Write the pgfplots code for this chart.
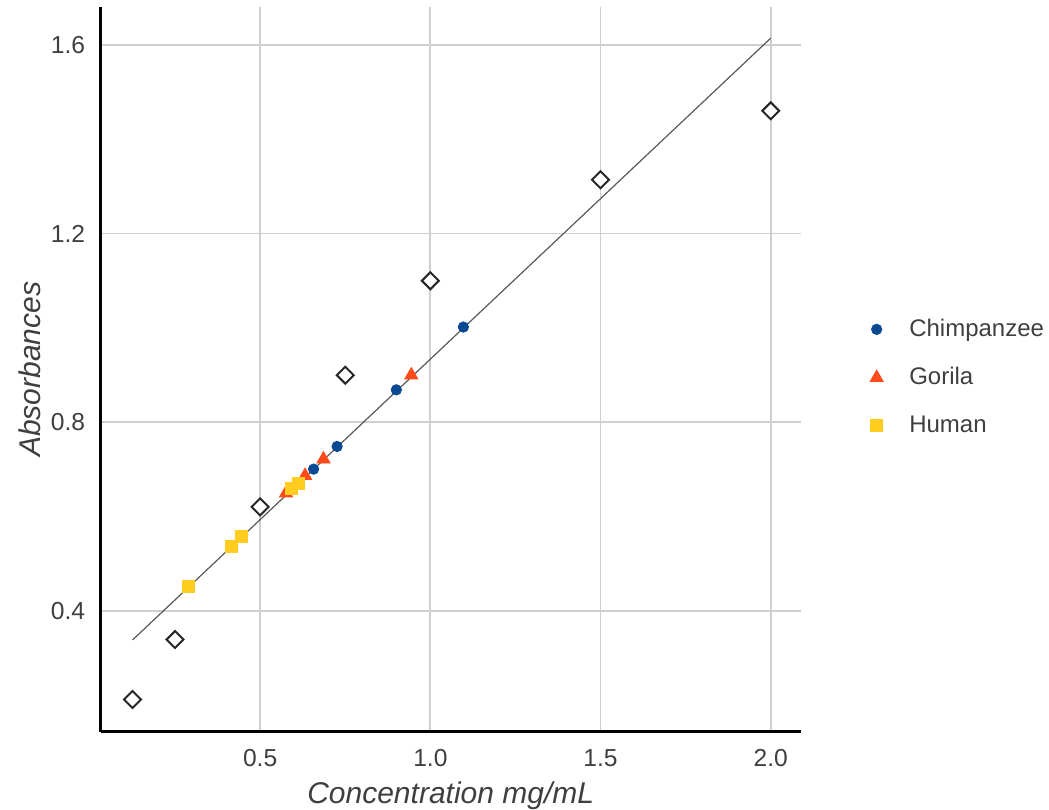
\documentclass[border=0pt]{standalone}
\usepackage{pgfplots}
\pgfplotsset{compat=1.18}
\usepackage{fontspec}
\setmainfont{Liberation Sans}
\definecolor{chimp}{HTML}{0B4A92}
\definecolor{gor}{HTML}{FF4A1A}
\definecolor{hum}{HTML}{FFCC1F}
\definecolor{tickc}{HTML}{3F3F3F}
\definecolor{gridc}{HTML}{CFCFCF}
\begin{document}
\begin{tikzpicture}
\begin{axis}[
  name=ax,
  scale only axis,
  width=350pt, height=362.35pt,
  xmin=0.0315, xmax=2.088,
  ymin=0.1447, ymax=1.68,
  axis x line*=bottom, axis y line*=left,
  axis line style={-, black, line width=1.5pt},
  xtick={0.5,1,1.5,2}, ytick={0.4,0.8,1.2,1.6},
  major tick length=0pt,
  grid=major,
  major grid style={gridc, line width=0.9pt},
  /pgf/number format/.cd, fixed, fixed zerofill, precision=1, assume math mode=true,
  /pgfplots/.cd,
  ticklabel style={font=\fontsize{12.3}{14}\selectfont, text=tickc},
  xticklabel style={yshift=-5.5pt},
  yticklabel style={xshift=-4.3pt},
  xlabel={\textit{Concentration mg/mL}},
  ylabel={\textit{Absorbances}},
  label style={font=\fontsize{15}{17}\selectfont, text=tickc},
  xlabel style={at={(axis description cs:0.5,-0.0984)}, anchor=base},
  ylabel style={at={(axis description cs:-0.101,0.5)}, anchor=center},
  legend style={draw=none, fill=none, at={(axis description cs:1.09,0.489)}, anchor=west,
    font=\fontsize{12}{14}\selectfont, text=tickc, row sep=10pt,
    /tikz/every odd column/.append style={column sep=11pt}},
  legend cell align=left,
  legend image code/.code={\draw[mark repeat=2,mark phase=2,#1] plot coordinates {(0pt,0pt)(6pt,0pt)(12pt,0pt)};},
  clip=false,
]
% regression line
\addplot[forget plot, color=black!65, line width=0.6pt] coordinates {(0.125,0.339) (2.0,1.614)};
% standards
\addplot[forget plot, only marks, mark=square*, mark size=3pt, mark options={rotate=45, fill=white, draw=black!85, line width=1pt}] coordinates {
(0.125,0.213) (0.25,0.340) (0.5,0.621) (0.75,0.900) (1.0,1.100) (1.5,1.314) (2.0,1.460)};
\addplot[only marks, mark=*, mark size=2.6pt, color=chimp] coordinates {
(0.657,0.701) (0.726,0.749) (0.900,0.869) (1.097,1.002)};
\addlegendentry{Chimpanzee}
\addplot[only marks, mark=triangle*, mark size=3.8pt, color=gor] coordinates {
(0.576,0.650) (0.632,0.687) (0.686,0.722) (0.944,0.900)};
\addlegendentry{Gorila}
\addplot[only marks, mark=square*, mark size=3pt, color=hum] coordinates {
(0.289,0.452) (0.415,0.537) (0.446,0.558) (0.593,0.660) (0.613,0.671)};
\addlegendentry{Human}
\end{axis}
\pgfresetboundingbox
\path ([xshift=-50.35pt,yshift=-38.65pt]ax.south west) rectangle ([xshift=474.15pt,yshift=365.85pt]ax.south west);
\end{tikzpicture}
\end{document}
